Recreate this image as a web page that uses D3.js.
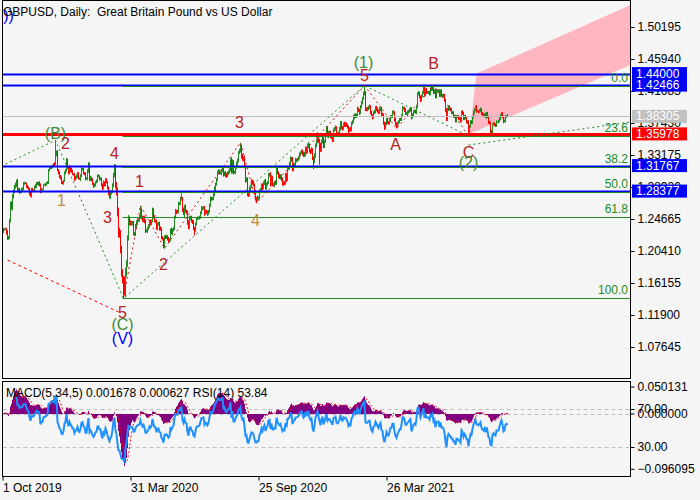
<!DOCTYPE html>
<html lang="en">
<head>
<meta charset="utf-8">
<script src="https://d3js.org/d3.v7.min.js"></script>
<title>GBPUSD Daily</title>
<style>
  body { margin: 0; background: #f5f5f5; }
  svg text { font-family: "Liberation Sans", Arial, sans-serif; }
</style>
</head>
<body>
<svg id="main" width="700" height="500"></svg>
<script>
// ---- data: one close per trading day, 1 Oct 2019 .. 13 Sep 2021 ----
const firstOpen = 1.2260;
const close2019Q4 = [
  1.2290,1.2330,1.2330,1.2330,1.2290,1.2210,1.2220,1.2440,1.2670,1.2610,1.2760,1.2830,1.2890,1.2920,1.2970,1.2860,1.2860,1.2820,1.2830,1.2860,1.2860,1.2940,1.2940,
  1.2940,1.2900,1.2880,1.2870,1.2810,1.2770,1.2860,1.2850,1.2850,1.2890,1.2900,1.2940,1.2930,1.2940,1.2920,1.2830,1.2860,1.2860,1.2920,1.2920,1.2930,
  1.2940,1.2950,1.3120,1.3140,1.3150,1.3160,1.3180,1.3200,1.3190,1.3330,1.3350,1.3110,1.3080,1.3030,1.3010,1.2950,1.2940,1.2980,1.3080,1.3110,1.3250
];
const close2020H1 = [
  1.3140,1.3080,1.3160,1.3120,1.3100,1.3060,1.3060,1.2990,1.3020,1.3030,1.3070,1.3010,1.3000,1.3040,1.3120,1.3130,1.3080,1.3070,1.3000,1.3000,1.3100,1.3200,
  1.2990,1.3020,1.2990,1.2930,1.2900,1.2920,1.2960,1.2970,1.3040,1.3040,1.3000,1.3000,1.2920,1.2870,1.2960,1.2920,1.2990,1.2950,1.2880,1.2820,
  1.2770,1.2810,1.2830,1.2910,1.3050,1.3110,1.2910,1.2830,1.2560,1.2280,1.2270,1.2050,1.1750,1.1670,1.1650,1.1480,1.1760,1.1870,1.2210,1.2460,1.2420,1.2410,
  1.2410,1.2410,1.2270,1.2270,1.2360,1.2420,1.2450,1.2450,1.2490,1.2580,1.2490,1.2450,1.2490,1.2430,1.2310,1.2310,1.2340,1.2370,1.2430,1.2410,1.2440,1.2590,
  1.2490,1.2440,1.2440,1.2340,1.2400,1.2410,1.2340,1.2330,1.2220,1.2200,1.2110,1.2230,1.2220,1.2230,1.2200,1.2170,1.2190,1.2320,1.2280,1.2320,1.2340,
  1.2490,1.2570,1.2560,1.2560,1.2670,1.2670,1.2730,1.2740,1.2590,1.2550,1.2620,1.2570,1.2560,1.2420,1.2350,1.2480,1.2490,1.2440,1.2420,1.2340,1.2320,1.2400
];
const close2020H2 = [
  1.2470,1.2480,1.2480,1.2490,1.2550,1.2610,1.2610,1.2620,1.2540,1.2570,1.2560,1.2540,1.2570,1.2650,1.2740,1.2730,1.2740,1.2790,1.2870,1.2930,1.2990,1.3090,1.3090,
  1.3080,1.3080,1.3110,1.3140,1.3060,1.3080,1.3050,1.3040,1.3080,1.3090,1.3120,1.3240,1.3090,1.3230,1.3090,1.3090,1.3150,1.3200,1.3240,1.3350,1.3370,
  1.3420,1.3300,1.3260,1.3280,1.3160,1.2980,1.2990,1.2800,1.2790,1.2850,1.2900,1.2960,1.2950,1.2920,1.2820,1.2740,1.2730,1.2750,1.2750,1.2830,1.2850,1.2920,
  1.2880,1.2940,1.2970,1.2880,1.2930,1.2950,1.3050,1.3060,1.2930,1.3020,1.2920,1.2920,1.2950,1.2940,1.3140,1.3080,1.3040,1.3020,1.3040,1.2990,1.2930,1.2950,
  1.2940,1.3050,1.2990,1.3150,1.3150,1.3180,1.3270,1.3260,1.3120,1.3190,1.3190,1.3250,1.3250,1.3260,1.3280,1.3320,1.3350,1.3370,1.3340,1.3310,1.3330,
  1.3400,1.3360,1.3440,1.3440,1.3380,1.3360,1.3380,1.3280,1.3230,1.3310,1.3440,1.3500,1.3570,1.3510,1.3450,1.3390,1.3500,1.3560,1.3440,1.3500,1.3580,1.3670
];
const close2021H1 = [
  1.3570,1.3610,1.3610,1.3570,1.3560,1.3520,1.3650,1.3660,1.3680,1.3600,1.3590,1.3610,1.3660,1.3740,1.3680,1.3670,1.3730,1.3720,1.3730,1.3710,
  1.3690,1.3640,1.3660,1.3650,1.3740,1.3760,1.3820,1.3850,1.3830,1.3850,1.3930,1.3910,1.3880,1.3960,1.4010,1.4070,1.4130,1.4150,1.3930,1.3920,
  1.3930,1.3950,1.3960,1.3890,1.3840,1.3820,1.3880,1.3890,1.3950,1.3930,1.3900,1.3880,1.3920,1.3940,1.3860,1.3850,1.3740,1.3680,1.3730,1.3790,1.3750,1.3740,1.3780,
  1.3830,1.3830,1.3880,1.3880,1.3790,1.3730,1.3700,1.3740,1.3760,1.3790,1.3790,1.3840,1.3940,1.3940,1.3920,1.3870,1.3870,1.3890,1.3900,1.3920,1.3930,1.3820,
  1.3850,1.3890,1.3900,1.3890,1.3960,1.4130,1.4140,1.4090,1.4050,1.4100,1.4150,1.4220,1.4120,1.4180,1.4150,1.4150,1.4150,1.4130,1.4200,1.4190,1.4220,
  1.4150,1.4170,1.4090,1.4160,1.4170,1.4170,1.4110,1.4170,1.4110,1.4110,1.4100,1.4050,1.3920,1.3800,1.3920,1.3960,1.3930,1.3920,1.3880,1.3880,1.3830,1.3830
];
const close2021Q3 = [
  1.3770,1.3830,1.3830,1.3800,1.3800,1.3770,1.3890,1.3870,1.3800,1.3830,1.3810,1.3760,1.3750,1.3630,1.3700,1.3760,1.3750,1.3820,1.3880,1.3920,1.3960,1.3900,
  1.3900,1.3890,1.3910,1.3930,1.3870,1.3850,1.3840,1.3860,1.3820,1.3870,1.3830,1.3750,1.3740,1.3630,1.3620,1.3720,1.3740,1.3720,1.3710,1.3760,1.3760,1.3760,
  1.3800,1.3840,1.3870,1.3830,1.3760,1.3770,1.3830,1.3840,1.3830
];
// shadows above / below the body, in units of 10 pips
const wickUp = [
  2,2,1,2,2,3,2,3,3,3,4,3,3,3,2,3,2,2,2,2,3,2,2,
  2,1,2,2,1,2,2,2,1,2,3,2,2,2,3,2,2,1,1,2,1,
  2,2,1,2,2,2,1,1,2,18,3,3,2,2,2,2,2,1,2,2,3,
  2,3,2,2,3,2,1,2,2,3,2,2,1,2,3,2,2,1,2,2,3,2,
  2,2,1,2,2,2,1,2,2,2,1,2,2,2,2,1,2,2,2,2,
  3,2,2,3,3,9,8,5,5,6,7,5,6,5,4,5,6,5,4,6,4,3,
  3,3,3,2,4,3,2,2,3,6,3,2,2,2,3,2,2,3,2,3,2,3,
  2,3,2,2,2,2,2,3,2,2,2,2,2,3,2,3,2,2,3,2,2,
  2,3,2,3,3,2,3,7,2,3,3,4,2,2,3,3,2,2,2,3,2,2,
  2,2,2,2,2,3,2,2,2,2,2,2,2,2,3,2,2,2,3,2,2,2,4,
  3,2,2,3,2,2,2,3,2,2,3,3,5,3,2,2,2,3,3,2,3,
  6,3,3,2,3,2,3,3,2,3,2,4,3,3,2,3,2,3,2,3,3,2,
  2,3,2,3,2,2,3,2,3,3,2,3,2,3,4,2,2,3,2,2,3,2,
  2,3,3,3,2,5,3,2,3,2,2,3,2,2,2,3,2,2,2,2,3,
  3,3,3,5,3,2,4,3,2,3,3,3,5,3,2,3,2,3,3,2,3,3,
  3,3,3,3,2,2,2,3,3,2,2,2,3,3,3,2,2,3,3,2,
  2,2,2,3,2,2,3,2,2,2,3,2,2,2,3,2,3,9,2,2,
  3,2,3,2,2,2,2,3,2,2,2,2,3,2,2,2,2,2,3,2,2,2,2,
  2,2,3,3,2,2,2,2,2,2,2,2,3,2,2,2,2,2,2,2,3,2,
  2,2,2,2,2,2,3,2,2,2,2,3,2,2,3,2,2,2,2,2,2,
  3,2,3,2,2,2,2,2,2,2,2,3,2,2,3,2,2,2,2,2,2,2,
  2,2,2,2,2,3,2,2,2,2,2,2,2,3,2,2,2,2,3,2,2,2,
  2,1,2,2,1,2,2,1,2,2,2,1,2,2,2,2,2,1,2,2,1,2,
  2,2,2,2,1,2,2,1,2
];
const wickDn = [
  2,1,2,1,3,2,2,2,2,2,3,2,2,2,3,2,2,2,1,2,2,1,2,
  1,2,1,2,3,1,2,2,2,1,2,2,1,2,2,2,2,1,1,1,2,
  2,1,2,2,1,2,2,2,3,1,3,1,2,2,2,2,1,2,2,2,2,
  1,2,2,3,2,1,2,2,1,2,2,2,1,3,2,1,2,2,2,1,2,2,
  2,2,2,1,2,1,2,2,2,2,2,2,2,2,1,2,2,1,2,4,
  3,4,2,2,2,3,4,5,6,6,5,4,5,6,24,3,5,6,4,3,4,3,
  3,3,2,3,3,2,3,2,2,2,3,2,3,2,3,2,3,2,2,3,2,2,
  2,2,3,2,2,2,3,2,2,2,3,4,2,2,2,2,2,2,2,3,2,
  2,2,3,2,2,2,2,2,3,3,6,2,3,3,2,2,3,2,2,2,7,2,
  2,2,2,2,2,2,3,2,3,2,2,3,2,2,2,2,2,2,2,3,2,2,3,
  2,2,3,2,3,2,3,2,2,3,2,2,2,2,3,2,3,2,2,2,2,
  2,3,2,3,2,3,2,3,3,2,3,2,3,2,3,3,5,3,3,2,2,2,
  3,2,2,2,3,2,2,2,3,2,2,2,3,2,2,2,3,2,3,2,2,3,
  2,2,3,2,3,3,2,3,2,2,2,2,3,2,2,2,2,2,3,2,2,
  3,3,2,3,3,3,2,3,10,2,3,2,3,3,26,3,3,3,3,3,2,2,
  2,3,2,3,3,3,3,2,2,3,2,3,2,2,2,3,2,3,3,2,
  2,3,2,2,2,2,2,3,2,2,2,2,3,2,2,2,2,2,3,2,
  2,2,2,3,2,3,2,2,2,3,2,2,2,2,3,2,2,3,2,2,2,2,2,
  2,2,2,2,3,2,3,2,2,2,2,2,2,2,3,2,2,2,2,2,2,3,
  2,2,2,2,3,2,2,2,3,2,2,2,3,2,2,2,2,2,2,2,2,
  2,2,2,2,2,2,2,2,2,2,2,2,3,3,3,2,2,2,2,2,2,2,
  2,2,2,2,2,2,2,2,2,2,2,2,2,6,2,2,2,2,2,2,2,2,
  1,2,1,2,2,1,2,2,1,2,2,2,1,2,2,2,1,2,2,2,1,2,
  1,2,1,2,2,1,2,2,1
];

// axis ticks
const priceTicks = [1.50195, 1.45940, 1.41685, 1.37430, 1.33175, 1.28920, 1.24665, 1.20410, 1.16155, 1.11900, 1.07645];
const dateIdx = [0, 128, 256, 384];
const dateLabels = ['1 Oct 2019', '31 Mar 2020', '25 Sep 2020', '26 Mar 2021'];

// horizontal levels with price tags
const levelPrices = [1.44000, 1.42466, 1.38305, 1.35978, 1.31767, 1.28377];
const levelKind = ['blue', 'blue', 'bid', 'red', 'blue', 'blue'];

// fibonacci retracement
const fibLevels = [0, 23.6, 38.2, 50.0, 61.8, 100.0];
const fibHigh = 1.42466, fibLow = 1.14288, fibStartIdx = 120;

// target channel
const channelIdx = [467, 474, 628, 628];
const channelPrice = [1.3598, 1.4400, 1.5312, 1.4514];

// wave lines
const greenWaveIdx = [3, 53, 121, 362, 466];
const greenWavePrice = [1.3198, 1.3514, 1.1409, 1.4241, 1.3572];
const greenProjIdx = [466, 628];
const greenProjPrice = [1.3450, 1.3756];
const redWaveIdx = [121, 138, 162, 238, 254, 362];
const redWavePrice = [1.1409, 1.2647, 1.2075, 1.3482, 1.2676, 1.4241];
const redWave2Idx = [362, 394, 431, 466];
const redWave2Price = [1.4241, 1.3670, 1.4250, 1.3572];
const redLongIdx = [5, 116];
const redLongPrice = [1.1921, 1.1230];

// wave labels
const waveText  = ['))', '(B)', '2', '1', '4', '3', '5', '(C)', '(V)', '1', '2', '3', '4', '(1)', '5', 'A', 'B', 'C', '(2)'];
const waveIdx   = [6, 53, 63, 59, 112, 105, 120, 120, 120, 137, 161, 237, 253, 361, 362, 393, 431, 466, 466];
const wavePrice = [1.5179, 1.3610, 1.3477, 1.2719, 1.3344, 1.2493, 1.1217, 1.1070, 1.0884, 1.2959, 1.1855, 1.3756, 1.2453, 1.4541, 1.4381, 1.3451, 1.4528, 1.3357, 1.3224];
const waveDegree = ['p', 'i', 'm', 's', 'm', 'm', 'm', 'i', 'p', 'm', 'm', 'm', 's', 'i', 'm', 'm', 'm', 'm', 'i'];

const titleText = 'GBPUSD, Daily:  Great Britain Pound vs US Dollar';
const indicatorText = ['MACD(5,34,5)', '0.001678', '0.000627', 'RSI(14)', '53.84'];

// ---- drawing ----
let svg = d3.select('svg#main');
let frameL = 2.5, frameR = 630.5, mainT = 0.5, mainB = 378.5, subT = 381.5, subB = 476.5;

let degreeColor = { p: '#0000ff', i: '#3d8b37', m: '#b22222', s: '#c08a3a' };
let levelStyle = {
    blue: { color: '#0000ff', width: 2 },
    bid: { color: '#c0c0c0', width: 1 },
    red: { color: '#ff0000', width: 3 }
};

let closes = close2019Q4.concat(close2020H1, close2020H2, close2021H1, close2021Q3);
let bars = closes.map(function(c, i) {
    let o = i === 0 ? firstOpen : closes[i - 1];
    return {
        i: i, o: o, c: c,
        h: Math.max(o, c) + (wickUp[i] || 0) / 1000,
        l: Math.min(o, c) - (wickDn[i] || 0) / 1000
    };
});

let x = d3.scaleLinear().domain([0, 628]).range([2.5, 630.5]);
let y = d3.scaleLinear().domain([1.07645, 1.50195]).range([347, 27]);
let macdY = d3.scaleLinear().domain([-0.096095, 0.050131]).range([475.3, 382]);
let rsiY = d3.scaleLinear().domain([0, 100]).range([475.5, 380.5]);

// indicators
let kF = 2 / 6, kS = 2 / 35, ef = closes[0], es = closes[0];
let macd = closes.map(function(c) {
    ef = ef + kF * (c - ef);
    es = es + kS * (c - es);
    return ef - es;
});
let signal = macd.map(function(m, i) {
    return i < 4 ? null : d3.mean(macd.slice(i - 4, i + 1));
});
let ag = 0, al = 0;
let rsi = closes.map(function(c, i) {
    if (i === 0) return null;
    let ch = c - closes[i - 1];
    let g = Math.max(ch, 0), l = Math.max(-ch, 0);
    if (i <= 14) {
        ag += g / 14; al += l / 14;
        if (i < 14) return null;
    } else {
        ag = (ag * 13 + g) / 14;
        al = (al * 13 + l) / 14;
    }
    return al === 0 ? 100 : 100 - 100 / (1 + ag / al);
});

let defs = svg.append('defs');
defs.append('clipPath').attr('id', 'clipMain').append('rect')
    .attr('x', frameL).attr('y', mainT).attr('width', frameR - frameL).attr('height', mainB - mainT);
defs.append('clipPath').attr('id', 'clipSub').append('rect')
    .attr('x', frameL).attr('y', subT).attr('width', frameR - frameL).attr('height', subB - subT);

svg.append('rect').attr('width', 700).attr('height', 500).attr('fill', '#f5f5f5');

let main = svg.append('g').attr('clip-path', 'url(#clipMain)');

// channel
let ptLine = d3.line().x(d => x(d[0])).y(d => y(d[1]));
main.append('path')
    .datum(d3.zip(channelIdx, channelPrice))
    .attr('d', d => ptLine(d) + 'Z')
    .attr('fill', '#ffb6c1');

// bars
main.selectAll('line.bar').data(bars).enter().append('line')
    .attr('class', 'bar')
    .attr('x1', d => x(d.i)).attr('x2', d => x(d.i))
    .attr('y1', d => y(d.h)).attr('y2', d => y(d.l))
    .attr('stroke', d => d.c >= d.o ? '#228b22' : '#ff0000')
    .attr('stroke-width', 1);

// horizontal levels
main.selectAll('line.level').data(levelPrices).enter().append('line')
    .attr('class', 'level')
    .attr('x1', frameL).attr('x2', frameR)
    .attr('y1', d => Math.round(y(d)) + 0.5).attr('y2', d => Math.round(y(d)) + 0.5)
    .attr('stroke', (d, i) => levelStyle[levelKind[i]].color)
    .attr('stroke-width', (d, i) => levelStyle[levelKind[i]].width);

// fibonacci
let fibPrice = lvl => fibHigh - lvl / 100 * (fibHigh - fibLow);
main.selectAll('line.fib').data(fibLevels).enter().append('line')
    .attr('class', 'fib')
    .attr('x1', x(fibStartIdx)).attr('x2', frameR)
    .attr('y1', d => Math.round(y(fibPrice(d))) + 1.5).attr('y2', d => Math.round(y(fibPrice(d))) + 1.5)
    .attr('stroke', '#228b22').attr('stroke-width', 1);
main.selectAll('text.fib').data(fibLevels).enter().append('text')
    .attr('class', 'fib')
    .attr('x', 628).attr('y', d => y(fibPrice(d)) - 3)
    .attr('text-anchor', 'end').attr('font-size', 12).attr('fill', '#228b22')
    .text(d => d.toFixed(1));

// wave lines
function waveLine(idx, price, color, dash) {
    main.append('path')
        .datum(d3.zip(idx, price))
        .attr('d', ptLine)
        .attr('fill', 'none')
        .attr('stroke', color)
        .attr('stroke-width', 1)
        .attr('stroke-dasharray', dash);
}
waveLine(redLongIdx, redLongPrice, '#ff0000', '3,3');
waveLine(greenWaveIdx, greenWavePrice, '#228b22', '2,3');
waveLine(greenProjIdx, greenProjPrice, '#228b22', '2,3');
waveLine(redWaveIdx, redWavePrice, '#d01010', '2,3');
waveLine(redWave2Idx, redWave2Price, '#d01010', '2,3');

// title
svg.append('text')
    .attr('x', 3).attr('y', 12)
    .attr('dominant-baseline', 'central')
    .attr('font-size', 12)
    .style('white-space', 'pre')
    .text(titleText);

// wave labels
main.selectAll('text.wave').data(waveText).enter().append('text')
    .attr('class', 'wave')
    .attr('x', (d, i) => x(waveIdx[i]))
    .attr('y', (d, i) => y(wavePrice[i]))
    .attr('text-anchor', 'middle')
    .attr('dominant-baseline', 'central')
    .attr('font-size', 16)
    .attr('fill', (d, i) => degreeColor[waveDegree[i]])
    .text(d => d);

// ---- indicator window ----
let sub = svg.append('g').attr('clip-path', 'url(#clipSub)');
sub.selectAll('line.lvl').data([rsiY(70), macdY(0), rsiY(30)]).enter().append('line')
    .attr('x1', frameL).attr('x2', frameR)
    .attr('y1', d => Math.round(d) + 0.5).attr('y2', d => Math.round(d) + 0.5)
    .attr('stroke', '#c0c0c0').attr('stroke-dasharray', '4,3');

sub.selectAll('line.hist').data(macd).enter().append('line')
    .attr('x1', (d, i) => x(i)).attr('x2', (d, i) => x(i))
    .attr('y1', macdY(0)).attr('y2', d => macdY(d))
    .attr('stroke', '#800080').attr('stroke-width', 1);

sub.append('path')
    .datum(signal)
    .attr('d', d3.line().defined(d => d !== null).x((d, i) => x(i)).y(d => macdY(d)))
    .attr('fill', 'none').attr('stroke', '#ff0000').attr('stroke-width', 1)
    .attr('stroke-dasharray', '2,2');

sub.append('path')
    .datum(rsi)
    .attr('d', d3.line().defined(d => d !== null).x((d, i) => x(i)).y(d => rsiY(d)))
    .attr('fill', 'none').attr('stroke', '#1e90ff').attr('stroke-width', 2);

svg.append('text')
    .attr('x', 6).attr('y', 393)
    .attr('dominant-baseline', 'central')
    .attr('font-size', 12)
    .text(indicatorText.join(' '));

// frames
svg.append('rect').attr('x', frameL).attr('y', mainT).attr('width', frameR - frameL).attr('height', mainB - mainT)
    .attr('fill', 'none').attr('stroke', '#000');
svg.append('rect').attr('x', frameL).attr('y', subT).attr('width', frameR - frameL).attr('height', subB - subT)
    .attr('fill', 'none').attr('stroke', '#000');

// price axis
let priceAxis = svg.append('g')
    .attr('transform', 'translate(' + frameR + ',0)')
    .call(d3.axisRight(y).tickValues(priceTicks).tickFormat(d3.format('.5f')).tickSize(4))
    .attr('font-size', 12).attr('font-family', '"Liberation Sans", Arial, sans-serif');
priceAxis.select('.domain').remove();

// level tags
let tags = svg.selectAll('g.tag').data(levelPrices).enter().append('g')
    .attr('class', 'tag')
    .attr('transform', d => 'translate(632,' + y(d) + ')');
tags.append('rect')
    .attr('x', 0).attr('y', -6.5).attr('width', 55).attr('height', 13)
    .attr('fill', (d, i) => levelStyle[levelKind[i]].color);
tags.append('text')
    .attr('x', 4).attr('dominant-baseline', 'central')
    .attr('font-size', 12).attr('fill', '#fff')
    .text(d => d.toFixed(5));

// indicator axes
let macdAxis = svg.append('g')
    .attr('transform', 'translate(' + frameR + ',0)')
    .call(d3.axisRight(macdY).tickValues([0.050131, 0, -0.096095]).tickFormat(d3.format('.6f')).tickSize(4))
    .attr('font-size', 12).attr('font-family', '"Liberation Sans", Arial, sans-serif');
macdAxis.select('.domain').remove();
macdAxis.selectAll('.tick').attr('transform', d => 'translate(0,' + (macdY(d) + (d > 0 ? 5 : d < 0 ? -6 : 0)) + ')');
let rsiAxis = svg.append('g')
    .attr('transform', 'translate(' + frameR + ',0)')
    .call(d3.axisRight(rsiY).tickValues([70, 30]).tickFormat(d3.format('.2f')).tickSize(4))
    .attr('font-size', 12).attr('font-family', '"Liberation Sans", Arial, sans-serif');
rsiAxis.select('.domain').remove();

// time axis
let timeAxis = svg.append('g')
    .attr('transform', 'translate(0,' + subB + ')')
    .call(d3.axisBottom(x).tickValues(dateIdx).tickFormat((d, i) => dateLabels[i]).tickSize(4))
    .attr('font-size', 12).attr('font-family', '"Liberation Sans", Arial, sans-serif');
timeAxis.select('.domain').remove();
timeAxis.selectAll('text').attr('text-anchor', 'start').attr('x', 0);
</script>
</body>
</html>
